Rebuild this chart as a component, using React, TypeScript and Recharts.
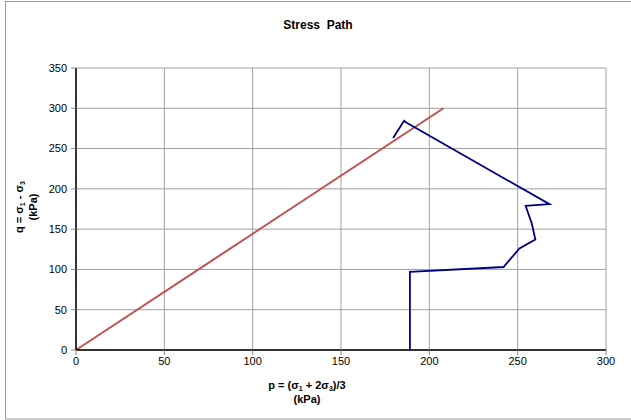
import React from 'react';
import { LineChart, Line, XAxis, YAxis, CartesianGrid } from 'recharts';

// stress path measured in the test (p, q in kPa)
const pathP = [189, 189, 242, 251, 260, 258, 254.5, 268, 187.2, 185.7, 179.5];
const pathQ = [0, 97, 103, 126, 137, 157, 179, 181, 282, 284.5, 263];

// failure envelope
const envP = [0, 208];
const envQ = [0, 300];

const xTicks = [0, 50, 100, 150, 200, 250, 300];
const yTicks = [0, 50, 100, 150, 200, 250, 300, 350];

const pathData = pathP.map((p, i) => ({ p, q: pathQ[i] }));
const envData = envP.map((p, i) => ({ p, q: envQ[i] }));

const FONT = '"Liberation Sans", Arial, sans-serif';

const App: React.FC = () => {
  return (
    <div style={{ position: 'absolute', left: 0, top: 0, width: 631, height: 420, background: '#fff' }}>
      <LineChart
        width={631}
        height={420}
        margin={{ top: 68, right: 25, bottom: 0, left: 0 }}
        style={{ fontFamily: FONT }}
      >
        <CartesianGrid stroke="#a0a0a0" strokeWidth={1} />
        <XAxis
          type="number"
          dataKey="p"
          domain={[0, 300]}
          ticks={xTicks}
          height={70}
          tickSize={5}
          tickMargin={2}
          axisLine={{ stroke: '#000', strokeWidth: 1.5 }}
          tickLine={{ stroke: '#888' }}
          tick={{ fill: '#000', fontSize: 11, fontFamily: FONT }}
          interval={0}
        />
        <YAxis
          type="number"
          dataKey="q"
          domain={[0, 350]}
          ticks={yTicks}
          width={76}
          tickSize={5}
          tickMargin={4}
          axisLine={{ stroke: '#000', strokeWidth: 1.5 }}
          tickLine={{ stroke: '#888' }}
          tick={{ fill: '#000', fontSize: 11, fontFamily: FONT }}
          interval={0}
        />
        <Line
          data={envData}
          dataKey="q"
          stroke="#C0504D"
          strokeWidth={2}
          dot={false}
          isAnimationActive={false}
        />
        <Line
          data={pathData}
          dataKey="q"
          stroke="#000080"
          strokeWidth={1.8}
          dot={false}
          isAnimationActive={false}
        />
      </LineChart>
      <svg
        width={631}
        height={420}
        style={{ position: 'absolute', left: 0, top: 0, pointerEvents: 'none' }}
      >
        <rect x={5.5} y={1.5} width={630} height={417.5} fill="none" stroke="#999" />
        <text x={318} y={29} textAnchor="middle" fontFamily={FONT} fontWeight="bold" fontSize={12}>
          Stress&#160;&#160;Path
        </text>
        <text x={307} y={389} textAnchor="middle" fontFamily={FONT} fontWeight="bold" fontSize={11}>
          p = (σ<tspan fontSize={7} dy={2}>1</tspan>
          <tspan dy={-2}> + 2σ</tspan>
          <tspan fontSize={7} dy={2}>3</tspan>
          <tspan dy={-2}>)/3</tspan>
        </text>
        <text x={307} y={403} textAnchor="middle" fontFamily={FONT} fontWeight="bold" fontSize={11}>
          (kPa)
        </text>
        <g transform="translate(23, 207) rotate(-90)">
          <text x={0} y={0} textAnchor="middle" fontFamily={FONT} fontWeight="bold" fontSize={11}>
            q = σ<tspan fontSize={7} dy={2}>1</tspan>
            <tspan dy={-2}> - σ</tspan>
            <tspan fontSize={7} dy={2}>3</tspan>
          </text>
          <text x={0} y={14} textAnchor="middle" fontFamily={FONT} fontWeight="bold" fontSize={11}>
            (kPa)
          </text>
        </g>
      </svg>
    </div>
  );
};

export default App;
